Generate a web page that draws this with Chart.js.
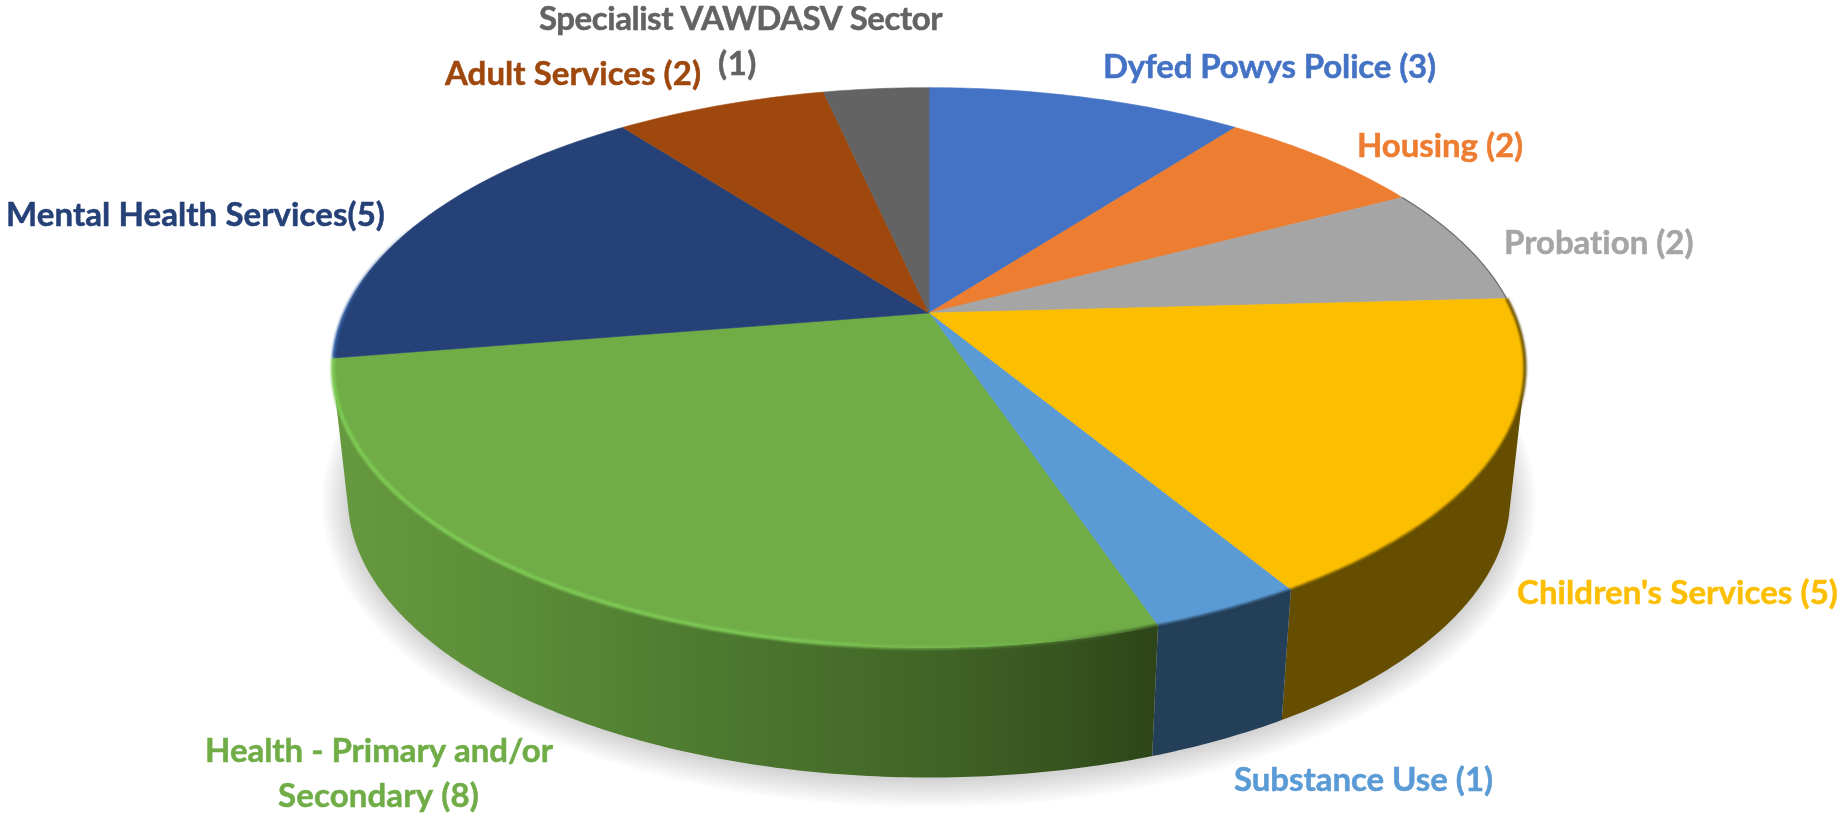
<!DOCTYPE html>
<html>
<head>
<meta charset="utf-8">
<script src="https://cdn.jsdelivr.net/npm/chart.js@4"></script>
<style>
html,body{margin:0;padding:0;background:#fff;overflow:hidden}
canvas{display:block}
</style>
</head>
<body>
<canvas id="c" width="1840" height="815"></canvas>
<script>
const categories = ["Dyfed Powys Police","Housing","Probation","Children's Services","Substance Use","Health - Primary and/or Secondary","Mental Health Services","Adult Services","Specialist VAWDASV Sector"];
const values = [3,2,2,5,1,8,5,2,1];
const topColors = ["#4472c4","#ed7d31","#a5a5a5","#fbbe00","#5b9bd5","#70ad47","#254177","#9e480e","#636363"];
const labelLines = [
  [["Dyfed Powys Police (3)",1103,1436,67]],
  [["Housing (2)",1357,1523,146]],
  [["Probation (2)",1504,1694,243]],
  [["Children's Services (5)",1517,1838,593]],
  [["Substance Use (1)",1234,1493,780]],
  [["Health - Primary and/or",205,553,751],["Secondary (8)",278,479,796]],
  [["Mental Health Services(5)",6,385,215]],
  [["Adult Services (2)",445,701,74]],
  [["Specialist VAWDASV Sector",539,942,19],["(1)",718,757,64]]
];
// view of the tilted disc
const view = {cx:929, ay:313, A:269.3, B:584.6, k:0.195, depth:130, shrink:0.975};
function proj(a){
  const u=Math.cos(a), v=Math.sin(a), w=1-view.k*v;
  return [view.cx+view.B*u/w, view.ay+view.A*v/w];
}
function low(p){ return [view.cx+(p[0]-view.cx)*view.shrink, p[1]+view.depth]; }
function samples(a0,a1){
  const n=Math.max(8,Math.ceil(Math.abs(a1-a0)*90)), r=[];
  for(let i=0;i<=n;i++) r.push(a0+(a1-a0)*i/n);
  return r;
}
function wallFill(ctx,i){
  if(i===5){
    const g=ctx.createLinearGradient(340,0,1155,0);
    g.addColorStop(0,"#66993f");
    g.addColorStop(0.2,"#5c8e39");
    g.addColorStop(0.45,"#4e7a30");
    g.addColorStop(0.7,"#426727");
    g.addColorStop(0.88,"#37551f");
    g.addColorStop(1,"#2d4519");
    return g;
  }
  return i===4 ? "#243f58" : "#654e00";
}
const pie3d = {
  id:"pie3d",
  beforeDatasetDraw(chart){
    const ctx=chart.ctx, arcs=chart.getDatasetMeta(0).data;
    ctx.save();
    // soft shadow under the body: stacked translucent rings
    const ring=samples(0,Math.PI*2).map(a=>low(proj(a)));
    const midY=view.ay+view.depth+47;
    for(let d=26;d>=0;d-=2){
      ctx.fillStyle="rgba(0,0,0,0.014)";
      ctx.beginPath();
      ring.forEach((p,j)=>{
        const x=view.cx+(p[0]-view.cx)*(1+d/580), y=midY+(p[1]-midY)*(1+d/280)+3;
        j?ctx.lineTo(x,y):ctx.moveTo(x,y);
      });
      ctx.closePath();
      ctx.fill();
    }
    // walls: one path of swept strips, all wound the same way
    arcs.forEach((el,i)=>{
      const mid=(el.startAngle+el.endAngle)/2;
      if(mid<=0||mid>=Math.PI) return;
      const s=samples(el.startAngle,el.endAngle);
      ctx.beginPath();
      for(let j=0;j<s.length-1;j++){
        const q=[proj(s[j]), proj(s[j+1])];
        q.push(low(q[1]), low(q[0]));
        let area=0;
        q.forEach((p,n)=>{const r=q[(n+1)%4]; area+=p[0]*r[1]-r[0]*p[1];});
        if(area<0) q.reverse();
        ctx.moveTo(q[0][0],q[0][1]);
        for(let n=1;n<4;n++) ctx.lineTo(q[n][0],q[n][1]);
        ctx.closePath();
      }
      ctx.fillStyle=wallFill(ctx,i);
      ctx.fill();
    });
    // top face
    arcs.forEach(el=>{
      const c=el.options.backgroundColor;
      ctx.beginPath();
      ctx.moveTo(view.cx,view.ay);
      samples(el.startAngle,el.endAngle).forEach(a=>{const p=proj(a); ctx.lineTo(p[0],p[1]);});
      ctx.closePath();
      ctx.fillStyle=c; ctx.strokeStyle=c; ctx.lineWidth=0.6;
      ctx.fill(); ctx.stroke();
    });
    // bevelled rim
    arcs.forEach((el,i)=>{
      const s=samples(el.startAngle,el.endAngle);
      ctx.save();
      ctx.beginPath();
      s.forEach((a,j)=>{const p=proj(a); j?ctx.lineTo(p[0],p[1]):ctx.moveTo(p[0],p[1]);});
      if(i===5){
        const g=ctx.createLinearGradient(340,0,1155,0);
        g.addColorStop(0,"#7ecb55");
        g.addColorStop(0.55,"#7cc654");
        g.addColorStop(0.85,"rgba(120,190,80,0.35)");
        g.addColorStop(0.97,"rgba(45,69,25,0.6)");
        g.addColorStop(1,"rgba(45,69,25,0.8)");
        ctx.strokeStyle=g; ctx.lineWidth=4; ctx.filter="blur(1px)";
        ctx.stroke();
      } else if(i===4||i===3){
        ctx.strokeStyle=wallFill(ctx,i); ctx.lineWidth=3; ctx.filter="blur(1.2px)";
        ctx.stroke();
      } else if(i===2){
        ctx.strokeStyle="rgba(90,90,90,0.8)"; ctx.lineWidth=1.2; ctx.filter="blur(0.5px)";
        ctx.stroke();
      } else if(i===6){
        const g=ctx.createLinearGradient(334,0,420,0);
        g.addColorStop(0,"#3a68ad"); g.addColorStop(1,"rgba(37,65,119,0)");
        ctx.strokeStyle=g; ctx.lineWidth=3; ctx.filter="blur(1px)";
        ctx.stroke();
      }
      ctx.restore();
    });
    ctx.restore();
    return false;
  },
  afterDatasetsDraw(chart){
    const ctx=chart.ctx;
    ctx.save();
    ctx.font='700 33px Lato, "Open Sans", sans-serif';
    ctx.textBaseline="middle";
    ctx.textAlign="left";
    labelLines.forEach((lines,i)=>{
      ctx.fillStyle=topColors[i];
      ctx.strokeStyle=topColors[i];
      ctx.lineWidth=0.5;
      lines.forEach(([t,x0,x1,y])=>{
        ctx.letterSpacing="0px";
        const w=ctx.measureText(t).width;
        ctx.letterSpacing=((x1-x0-w)/t.length).toFixed(3)+"px";
        ctx.fillText(t,x0,y);
        ctx.strokeText(t,x0,y);
      });
    });
    ctx.restore();
  }
};
new Chart(document.getElementById("c"),{
  type:"pie",
  data:{labels:categories,datasets:[{data:values,backgroundColor:topColors,borderWidth:0}]},
  options:{
    responsive:false,
    animation:false,
    rotation:0,
    plugins:{legend:{display:false},tooltip:{enabled:false}}
  },
  plugins:[pie3d]
});
</script>
</body>
</html>
